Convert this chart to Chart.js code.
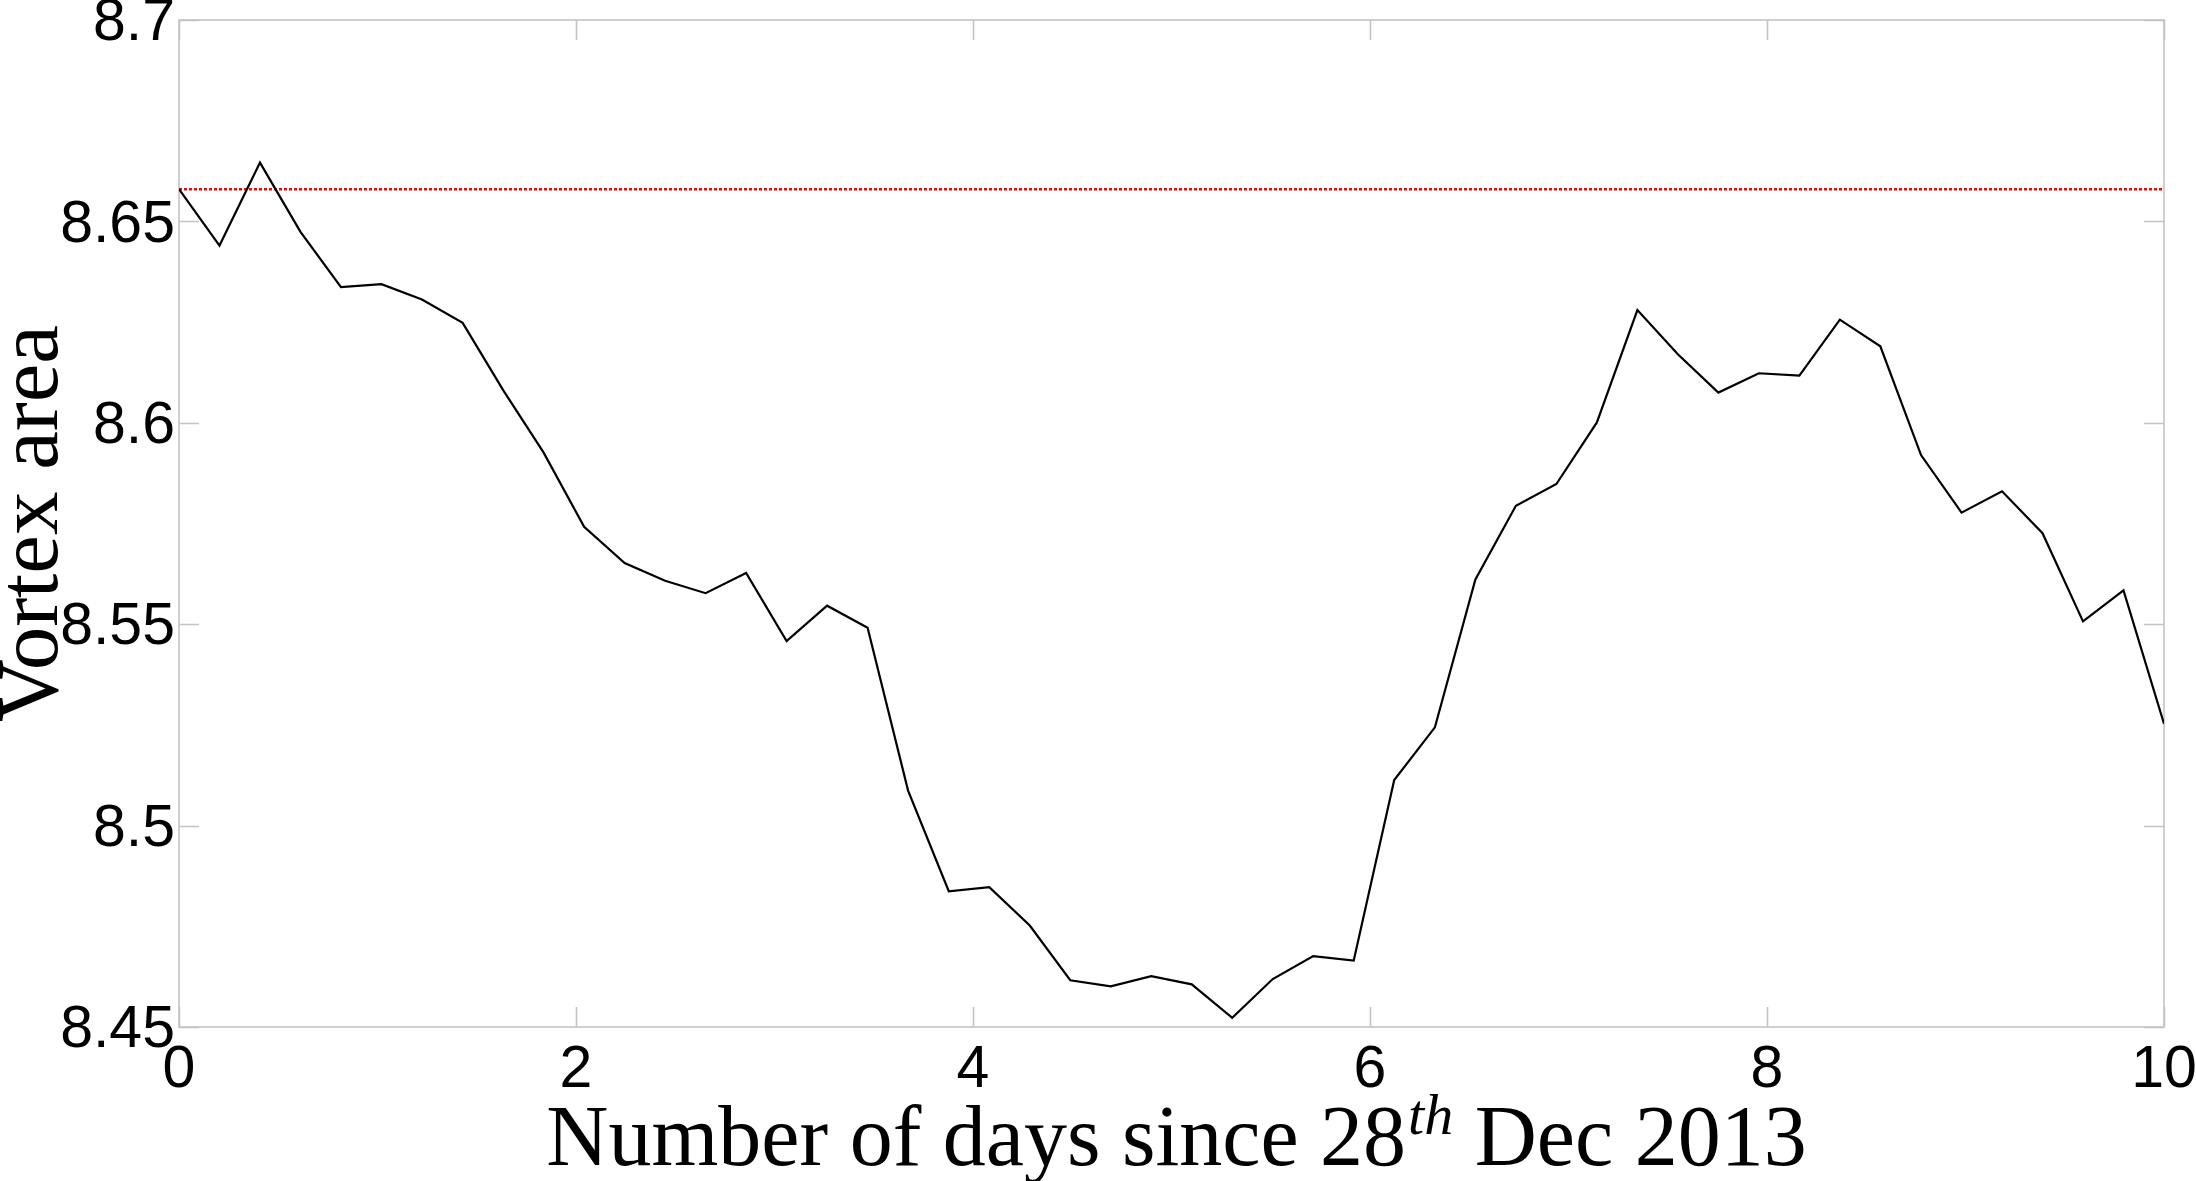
<!DOCTYPE html>
<html><head><meta charset="utf-8">
<script src="https://cdn.jsdelivr.net/npm/chart.js@4.4.1/dist/chart.umd.min.js"></script>
<style>html,body{margin:0;padding:0;background:#fff;overflow:hidden}</style>
</head><body>
<canvas id="c" width="2196" height="1181"></canvas>
<script>
const days = [0, 0.204, 0.408, 0.612, 0.816, 1.020, 1.224, 1.429, 1.633, 1.837,
  2.041, 2.245, 2.449, 2.653, 2.857, 3.061, 3.265, 3.469, 3.673, 3.878,
  4.082, 4.286, 4.490, 4.694, 4.898, 5.102, 5.306, 5.510, 5.714, 5.918,
  6.122, 6.327, 6.531, 6.735, 6.939, 7.143, 7.347, 7.551, 7.755, 7.959,
  8.163, 8.367, 8.571, 8.776, 8.980, 9.184, 9.388, 9.592, 9.796, 10];
const vortexArea = [8.658, 8.644, 8.6646, 8.6474, 8.6337, 8.6344, 8.6306, 8.6248, 8.6081, 8.5926,
  8.5742, 8.5652, 8.5608, 8.5577, 8.5627, 8.5458, 8.5546, 8.5491, 8.5087, 8.4837,
  8.4847, 8.4752, 8.4616, 8.4601, 8.4626, 8.4606, 8.4523, 8.4619, 8.4676, 8.4665,
  8.5113, 8.5244, 8.5611, 8.5794, 8.5848, 8.6001, 8.628, 8.617, 8.6075, 8.6123,
  8.6117, 8.6256, 8.619, 8.592, 8.5777, 8.583, 8.5726, 8.5507, 8.5584, 8.5253];
const thresholdArea = 8.658;
const xTickValues = [0, 2, 4, 6, 8, 10];
const xTickLabels = ['0', '2', '4', '6', '8', '10'];
const yTickValues = [8.45, 8.5, 8.55, 8.6, 8.65, 8.7];
const yTickLabels = ['8.45', '8.5', '8.55', '8.6', '8.65', '8.7'];
const xTitleParts = ['Number of days since 28', 'th', ' Dec 2013'];
const yTitle = 'Vortex area';

const SERIF = '"Liberation Serif", "DejaVu Serif", serif';
const SANS = '"Liberation Sans", Arial, sans-serif';

const framePlugin = {
  id: 'frame',
  beforeDatasetsDraw(chart) {
    const {ctx, chartArea: a, scales: {x, y}} = chart;
    ctx.save();
    ctx.strokeStyle = '#c4c4c4';
    ctx.lineWidth = 1.6;
    ctx.strokeRect(a.left, a.top, a.right - a.left, a.bottom - a.top);
    ctx.beginPath();
    const L = 20;
    xTickValues.forEach(v => {
      const px = Math.round(x.getPixelForValue(v)) + 0.5;
      ctx.moveTo(px, a.bottom); ctx.lineTo(px, a.bottom - L);
      ctx.moveTo(px, a.top); ctx.lineTo(px, a.top + L);
    });
    yTickValues.forEach(v => {
      const py = Math.round(y.getPixelForValue(v)) + 0.5;
      ctx.moveTo(a.left, py); ctx.lineTo(a.left + L, py);
      ctx.moveTo(a.right, py); ctx.lineTo(a.right - L, py);
    });
    ctx.stroke();
    ctx.restore();
  },
  afterDraw(chart) {
    const {ctx, chartArea: a} = chart;
    ctx.save();
    ctx.fillStyle = '#000';
    // x title with superscript
    const S = 86;
    const fMain = S + 'px ' + SERIF;
    const fSup = 'italic ' + Math.round(S * 0.68) + 'px ' + SERIF;
    ctx.font = fMain; const w0 = ctx.measureText(xTitleParts[0]).width;
    ctx.font = fSup; const w1 = ctx.measureText(xTitleParts[1]).width;
    ctx.font = fMain; const w2 = ctx.measureText(xTitleParts[2]).width;
    const total = w0 + w1 + w2;
    const cx = (a.left + a.right) / 2 + 4;
    let xs = cx - total / 2;
    const base = 1165;
    ctx.textAlign = 'left'; ctx.textBaseline = 'alphabetic';
    ctx.font = fMain; ctx.fillText(xTitleParts[0], xs, base); xs += w0;
    ctx.font = fSup; ctx.fillText(xTitleParts[1], xs + 2, base - S * 0.36); xs += w1 + 2;
    ctx.font = fMain; ctx.fillText(xTitleParts[2], xs, base);
    // y title rotated
    ctx.translate(57, (a.top + a.bottom) / 2);
    ctx.rotate(-Math.PI / 2);
    ctx.textAlign = 'center';
    ctx.font = '87px ' + SERIF;
    ctx.fillText(yTitle, 0, 0);
    ctx.restore();
  }
};

new Chart(document.getElementById('c'), {
  type: 'line',
  data: {
    datasets: [
      {
        label: 'Vortex area',
        data: days.map((d, i) => ({x: d, y: vortexArea[i]})),
        borderColor: '#000',
        borderWidth: 2.2,
        pointRadius: 0,
        tension: 0,
        fill: false
      },
      {
        label: 'Reference',
        data: [{x: days[0], y: thresholdArea}, {x: days[days.length - 1], y: thresholdArea}],
        borderColor: '#ff0000',
        borderWidth: 2.4,
        borderDash: [3, 2],
        pointRadius: 0,
        fill: false
      }
    ]
  },
  options: {
    responsive: false,
    animation: false,
    devicePixelRatio: 1,
    layout: {padding: {top: 20, right: 32, left: 0, bottom: 0}},
    plugins: {legend: {display: false}, tooltip: {enabled: false}},
    scales: {
      x: {
        type: 'linear', min: 0, max: 10,
        grid: {display: false, drawTicks: false},
        border: {display: false},
        afterBuildTicks: s => { s.ticks = xTickValues.map(v => ({value: v})); },
        ticks: {
          font: {family: SANS, size: 59},
          color: '#000', padding: 8, maxRotation: 0, autoSkip: false,
          callback: (v, i) => xTickLabels[i]
        },
        afterFit: s => { s.height = 154; s.paddingLeft = 0; s.paddingRight = 0; }
      },
      y: {
        type: 'linear', min: 8.45, max: 8.7,
        grid: {display: false, drawTicks: false},
        border: {display: false},
        afterBuildTicks: s => { s.ticks = yTickValues.map(v => ({value: v})); },
        ticks: {
          font: {family: SANS, size: 59},
          color: '#000', padding: 4, labelOffset: 4, autoSkip: false,
          callback: (v, i) => yTickLabels[i]
        },
        afterFit: s => { s.width = 179; s.paddingTop = 0; s.paddingBottom = 0; }
      }
    }
  },
  plugins: [framePlugin]
});
</script>
</body></html>
